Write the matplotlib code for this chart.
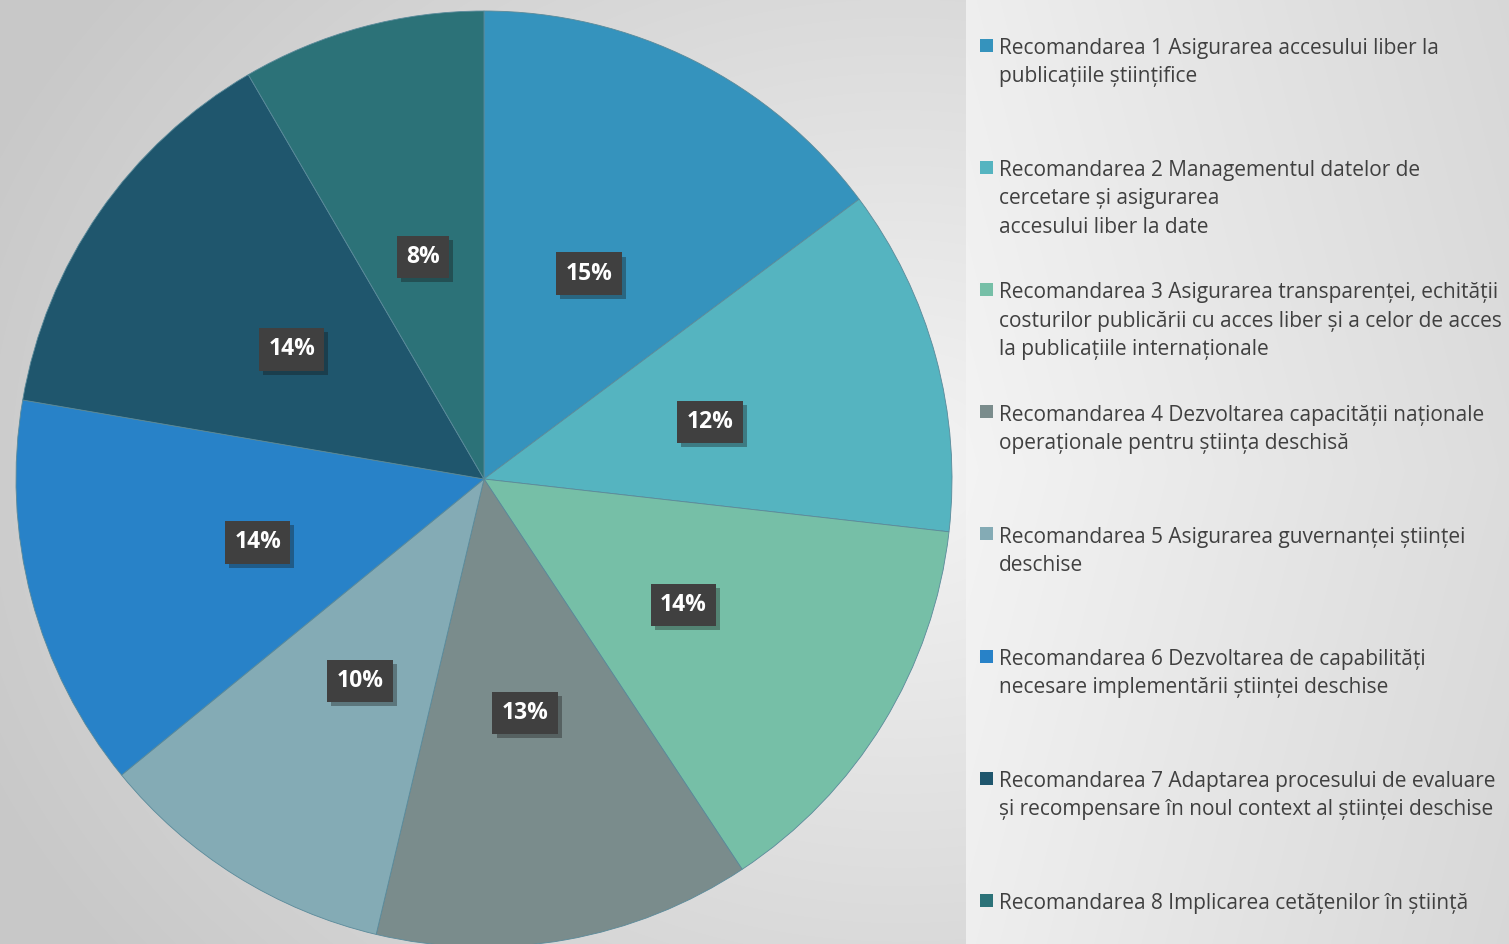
import numpy as np
import matplotlib
matplotlib.use("Agg")
import matplotlib.pyplot as plt
import matplotlib.patheffects as pe

# date
valori = [14.8, 12.0, 13.9, 13.0, 10.4, 13.6, 13.9, 8.4]
culori = ['#3593BD', '#55B4C0', '#76BFA7', '#7A8C8C', '#84ABB5', '#2882C8', '#1F566D', '#2C7278']
etichete = [
    "Recomandarea 1 Asigurarea accesului liber la\npublicațiile științifice",
    "Recomandarea 2 Managementul datelor de\ncercetare și asigurarea\naccesului liber la date",
    "Recomandarea 3 Asigurarea transparenței, echității\ncosturilor publicării cu acces liber și a celor de acces\nla publicațiile internaționale",
    "Recomandarea 4 Dezvoltarea capacității naționale\noperaționale pentru știința deschisă",
    "Recomandarea 5 Asigurarea guvernanței științei\ndeschise",
    "Recomandarea 6 Dezvoltarea de capabilități\nnecesare implementării științei deschise",
    "Recomandarea 7 Adaptarea procesului de evaluare\nși recompensare în noul context al științei deschise",
    "Recomandarea 8 Implicarea cetățenilor în știință",
]

W, H = 1509, 944
fig = plt.figure(figsize=(W / 100, H / 100), dpi=100)

# fundal cu gradient
bg = fig.add_axes([0, 0, 1, 1])
yy, xx = np.mgrid[0:H, 0:W]
d = np.sqrt(((xx - 900) / 1000.0) ** 2 + ((yy - 470) / 800.0) ** 2)
val = 0.955 - 0.17 * np.clip(d, 0, 1)
dreapta = xx >= 966
val2 = 0.955 - 0.09 * ((xx - 966) / (W - 966.0)) - 0.02 * np.abs(yy - 470) / 470.0
val = np.where(dreapta, val2, val)
img = np.dstack([val, val, val])
bg.imshow(img, extent=[0, W, H, 0], aspect='auto')
bg.set_xlim(0, W)
bg.set_ylim(H, 0)
bg.axis('off')

# pie
ax = fig.add_axes([(484 - 468) / W, (H - 479 - 468) / H, 936 / W, 936 / H])
plt.rcParams['hatch.color'] = '#505050'
wedges, texts, autotexts = ax.pie(
    valori, colors=culori, startangle=90, counterclock=False,
    autopct='%.0f%%', pctdistance=0.5,
    wedgeprops=dict(linewidth=0.6, edgecolor='#5a8a9a'),
    textprops=dict(color='white', fontsize=16.5, fontweight='bold', family='Open Sans'))
for t in autotexts:
    x, y = t.get_position()
    t.set_position((x, y - 0.008))
    t.set_bbox(dict(boxstyle='square,pad=0.4', facecolor='#404040', edgecolor='none', hatch='..'))
    t.get_bbox_patch().set_path_effects([pe.SimplePatchShadow(offset=(3, -3), alpha=0.35), pe.Normal()])
ax.set_xlim(-1, 1)
ax.set_ylim(-1, 1)
ax.set_aspect('equal')

# legenda
y0 = 45
for i, (c, e) in enumerate(zip(culori, etichete)):
    y = y0 + i * 122.2
    bg.add_patch(plt.Rectangle((979.5, y - 6.5), 13, 13, facecolor=c, edgecolor='none'))
    bg.text(999, y - 7, e, fontsize=15, color='#404040', family='Open Sans',
            va='top', ha='left', linespacing=1.45)

fig.savefig('out.png', dpi=100)
